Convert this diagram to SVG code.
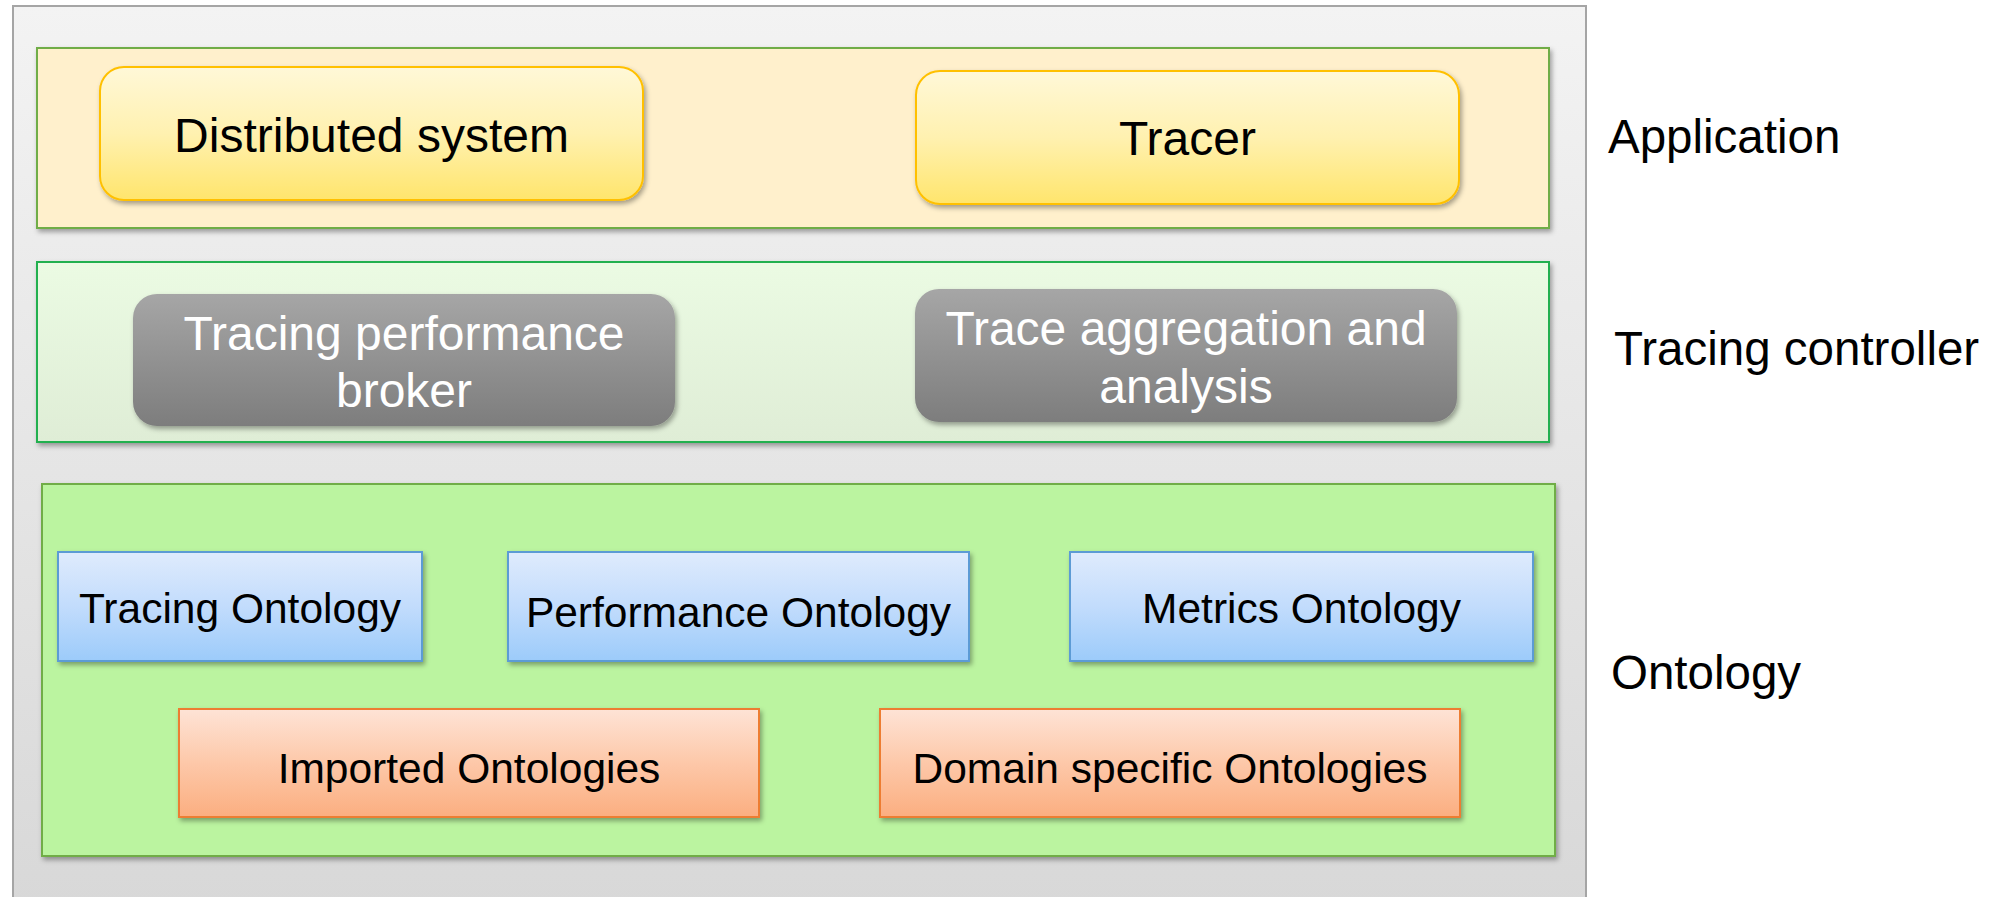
<svg xmlns="http://www.w3.org/2000/svg" width="2006" height="897" viewBox="0 0 2006 897">
  <defs>
    <linearGradient id="gFrame" x1="0" y1="0" x2="0" y2="1">
      <stop offset="0" stop-color="#f3f3f3"/>
      <stop offset="1" stop-color="#d8d8d8"/>
    </linearGradient>
    <linearGradient id="gCtrlBand" x1="0" y1="0" x2="0" y2="1">
      <stop offset="0" stop-color="#ebfbe3"/>
      <stop offset="1" stop-color="#dfedd6"/>
    </linearGradient>
    <linearGradient id="gYellow" x1="0" y1="0" x2="0" y2="1">
      <stop offset="0" stop-color="#fff8d8"/>
      <stop offset="0.5" stop-color="#fff1b0"/>
      <stop offset="1" stop-color="#ffe56c"/>
    </linearGradient>
    <linearGradient id="gGray" x1="0" y1="0" x2="0" y2="1">
      <stop offset="0" stop-color="#a6a6a6"/>
      <stop offset="1" stop-color="#7d7d7d"/>
    </linearGradient>
    <linearGradient id="gBlue" x1="0" y1="0" x2="0" y2="1">
      <stop offset="0" stop-color="#dfebfd"/>
      <stop offset="0.5" stop-color="#c2dcfc"/>
      <stop offset="1" stop-color="#9ccbfa"/>
    </linearGradient>
    <linearGradient id="gOrange" x1="0" y1="0" x2="0" y2="1">
      <stop offset="0" stop-color="#fee3d6"/>
      <stop offset="0.5" stop-color="#fdc8a9"/>
      <stop offset="1" stop-color="#fbae80"/>
    </linearGradient>
    <filter id="shadow" x="-5%" y="-10%" width="115%" height="130%">
      <feDropShadow dx="2" dy="3" stdDeviation="2.5" flood-color="#000" flood-opacity="0.35"/>
    </filter>
  </defs>
  <style>
    text { font-family: "Liberation Sans", Arial, sans-serif; text-anchor: middle; fill: #000; }
    .lbl { font-size: 47.5px; text-anchor: start; }
    .big { font-size: 48px; }
    .onto { font-size: 42.5px; }
    .white { fill: #fff; }
    .band { stroke-width: 2; filter: url(#shadow); }
    .app { fill: url(#gYellow); stroke: #ffc000; stroke-width: 2; filter: url(#shadow); }
    .ctl { fill: url(#gGray); stroke: none; filter: url(#shadow); }
    .blue { fill: url(#gBlue); stroke: #5b9bd5; stroke-width: 2; filter: url(#shadow); }
    .orange { fill: url(#gOrange); stroke: #ed7d31; stroke-width: 2; filter: url(#shadow); }
  </style>

  <rect width="2006" height="897" fill="#fff"/>

  <!-- outer frame -->
  <rect id="frame" x="13" y="6" width="1573" height="900" fill="url(#gFrame)" stroke="#a5a5a5" stroke-width="2"/>

  <!-- layer bands -->
  <g id="layer-application">
    <rect class="band" x="37" y="48" width="1512" height="180" fill="#fff0cc" stroke="#70ad47"/>
  </g>
  <g id="layer-controller">
    <rect class="band" x="37" y="262" width="1512" height="180" fill="url(#gCtrlBand)" stroke="#23b04f"/>
  </g>
  <g id="layer-ontology">
    <rect class="band" x="42" y="484" width="1513" height="372" fill="#bbf4a0" stroke="#70ad47"/>
  </g>

  <!-- application nodes -->
  <g id="distributed-system">
    <rect class="app" x="100" y="67" width="543" height="133" rx="24"/>
    <text class="big" x="371.5" y="152">Distributed system</text>
  </g>
  <g id="tracer">
    <rect class="app" x="916" y="71" width="543" height="133" rx="24"/>
    <text class="big" x="1187.5" y="155">Tracer</text>
  </g>

  <!-- tracing controller nodes -->
  <g id="performance-broker">
    <rect class="ctl" x="133" y="294" width="542" height="132" rx="24"/>
    <text class="big white" x="404" y="350">Tracing performance</text>
    <text class="big white" x="404" y="407">broker</text>
  </g>
  <g id="trace-aggregation">
    <rect class="ctl" x="915" y="289" width="542" height="133" rx="24"/>
    <text class="big white" x="1186" y="345">Trace aggregation and</text>
    <text class="big white" x="1186" y="403">analysis</text>
  </g>

  <!-- ontology nodes -->
  <g id="tracing-ontology">
    <rect class="blue" x="58" y="552" width="364" height="109"/>
    <text class="onto" x="240" y="623">Tracing Ontology</text>
  </g>
  <g id="performance-ontology">
    <rect class="blue" x="508" y="552" width="461" height="109"/>
    <text class="onto" x="738.5" y="627">Performance Ontology</text>
  </g>
  <g id="metrics-ontology">
    <rect class="blue" x="1070" y="552" width="463" height="109"/>
    <text class="onto" x="1301.5" y="623">Metrics Ontology</text>
  </g>
  <g id="imported-ontologies">
    <rect class="orange" x="179" y="709" width="580" height="108"/>
    <text class="onto" x="469" y="783">Imported Ontologies</text>
  </g>
  <g id="domain-ontologies">
    <rect class="orange" x="880" y="709" width="580" height="108"/>
    <text class="onto" x="1170" y="783">Domain specific Ontologies</text>
  </g>

  <g id="connectors"/>

  <!-- layer labels -->
  <g id="labels">
    <text class="lbl" x="1608" y="153">Application</text>
    <text class="lbl" x="1614" y="365">Tracing controller</text>
    <text class="lbl" x="1611" y="689">Ontology</text>
  </g>
</svg>
